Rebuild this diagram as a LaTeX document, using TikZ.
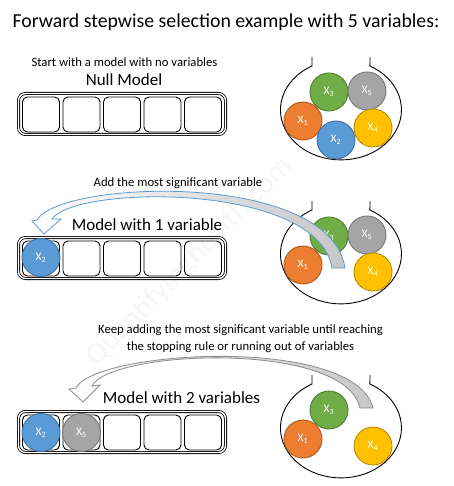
\documentclass[tikz,border=0pt]{standalone}
\usepackage{fontspec}
\setmainfont{Carlito}
\definecolor{cOr}{HTML}{ED7D31}\definecolor{cOrD}{HTML}{AE5A21}
\definecolor{cGr}{HTML}{70AD47}\definecolor{cGrD}{HTML}{507E32}
\definecolor{cGy}{HTML}{A5A5A5}\definecolor{cGyD}{HTML}{787878}
\definecolor{cBl}{HTML}{5B9BD5}\definecolor{cBlD}{HTML}{41719C}
\definecolor{cYe}{HTML}{FFC000}\definecolor{cYeD}{HTML}{BC8C00}
\definecolor{arrBl}{HTML}{5B9BD5}
\begin{document}
\begin{tikzpicture}[x=1pt,y=-1pt,
  ball/.style={circle, minimum size=38pt, inner sep=0pt, line width=0.9pt, text=white, font=\fontsize{11.5}{12}\selectfont},
  cell/.style={draw, rounded corners=5pt, minimum width=37pt, minimum height=35pt, line width=0.9pt, inner sep=0pt},
  frame/.style={draw, rounded corners=7pt, double, double distance=1.4pt, line width=0.8pt, minimum width=207pt, minimum height=41pt, inner sep=0pt},
  small/.style={font=\fontsize{12.7}{17}\selectfont, inner sep=0pt},
  big/.style={font=\fontsize{17}{20}\selectfont, inner sep=0pt},
  flask/.style={line width=0.9pt}
]
\useasboundingbox (0,0) rectangle (453,486);
% watermark
\node[rotate=45.5, text=black!3.5, font=\fontsize{30}{32}\selectfont, inner sep=0pt] (wm) at (190,262) {Quantifyinghealth.com};
% title
\node[font=\fontsize{19.8}{22}\selectfont, inner sep=0pt] (title) at (226,22) {Forward stepwise selection example with 5 variables:};
% texts
\node[small] (t1) at (124.5,62) {Start with a model with no variables};
\node[big] (l1) at (124,80) {Null Model};
\node[small] (t2) at (178,183) {Add the most significant variable};
\node[big] (l2) at (147,225) {Model with 1 variable};
\node[small, align=center] (t3) at (240.5,338.5) {Keep adding the most significant variable until reaching\\the stopping rule or running out of variables};
\node[big] (l3) at (181.5,398) {Model with 2 variables};
% model frames and cells
\foreach \s/\dy in {a/0,b/144,c/318}{
  \node[frame] (frame\s) at (122,114+\dy) {};
  \foreach \i/\x in {1/41,2/81.5,3/122,4/162.5,5/203}{
    \node[cell] (cell\s\i) at (\x,114.5+\dy) {};
  }
  \draw[flask] (312,57+\dy) -- (312,66+\dy) arc[start angle=118.6, end angle=421.4, x radius=60.5pt, y radius=50pt] -- (370,57+\dy);
}
% flask 1 balls
\node[ball, fill=cGr, draw=cGrD] (a3) at (329,92) {X\textsubscript{3}};
\node[ball, fill=cGy, draw=cGyD] (a5) at (367,91) {X\textsubscript{5}};
\node[ball, fill=cOr, draw=cOrD] (a1) at (303,121) {X\textsubscript{1}};
\node[ball, fill=cBl, draw=cBlD] (a2) at (336,140) {X\textsubscript{2}};
\node[ball, fill=cYe, draw=cYeD] (a4) at (373,128) {X\textsubscript{4}};
% flask 2 balls
\node[ball, fill=cGr, draw=cGrD] (b3) at (329,236) {X\textsubscript{3}};
\node[ball, fill=cGy, draw=cGyD] (b5) at (367,235) {X\textsubscript{5}};
\node[ball, fill=cOr, draw=cOrD] (b1) at (303,265) {X\textsubscript{1}};
\node[ball, fill=cYe, draw=cYeD] (b4) at (373,272) {X\textsubscript{4}};
\node[ball, fill=cBl, draw=cBlD] (b2) at (41,257.5) {X\textsubscript{2}};
% flask 3 balls
\node[ball, fill=cGr, draw=cGrD] (c3) at (329,410) {X\textsubscript{3}};
\node[ball, fill=cOr, draw=cOrD] (c1) at (303,439) {X\textsubscript{1}};
\node[ball, fill=cYe, draw=cYeD] (c4) at (373,446) {X\textsubscript{4}};
\node[ball, fill=cBl, draw=cBlD] (c2) at (41,432.5) {X\textsubscript{2}};
\node[ball, fill=cGy, draw=cGyD] (c5) at (81.5,432.5) {X\textsubscript{5}};
% arrow 2 (blue)
\draw[draw=arrBl, line width=0.8pt, left color=white, right color=black!22, line join=miter]
  (37,220) .. controls (60,180) and (330,170) .. (345,268) -- (332,268)
  .. controls (318,182) and (75,185) .. (52,219) -- (61,219) -- (44,234) -- (32,221) -- cycle;
% arrow 3 (gray)
\draw[draw=black!45, line width=0.8pt, left color=white, right color=black!22, line join=miter]
  (76,388) .. controls (95,350) and (355,335) .. (373,408) -- (360,408)
  .. controls (345,340) and (110,350) .. (92,386) -- (100,385) -- (83,402) -- (69,389) -- cycle;
\end{tikzpicture}
\end{document}
